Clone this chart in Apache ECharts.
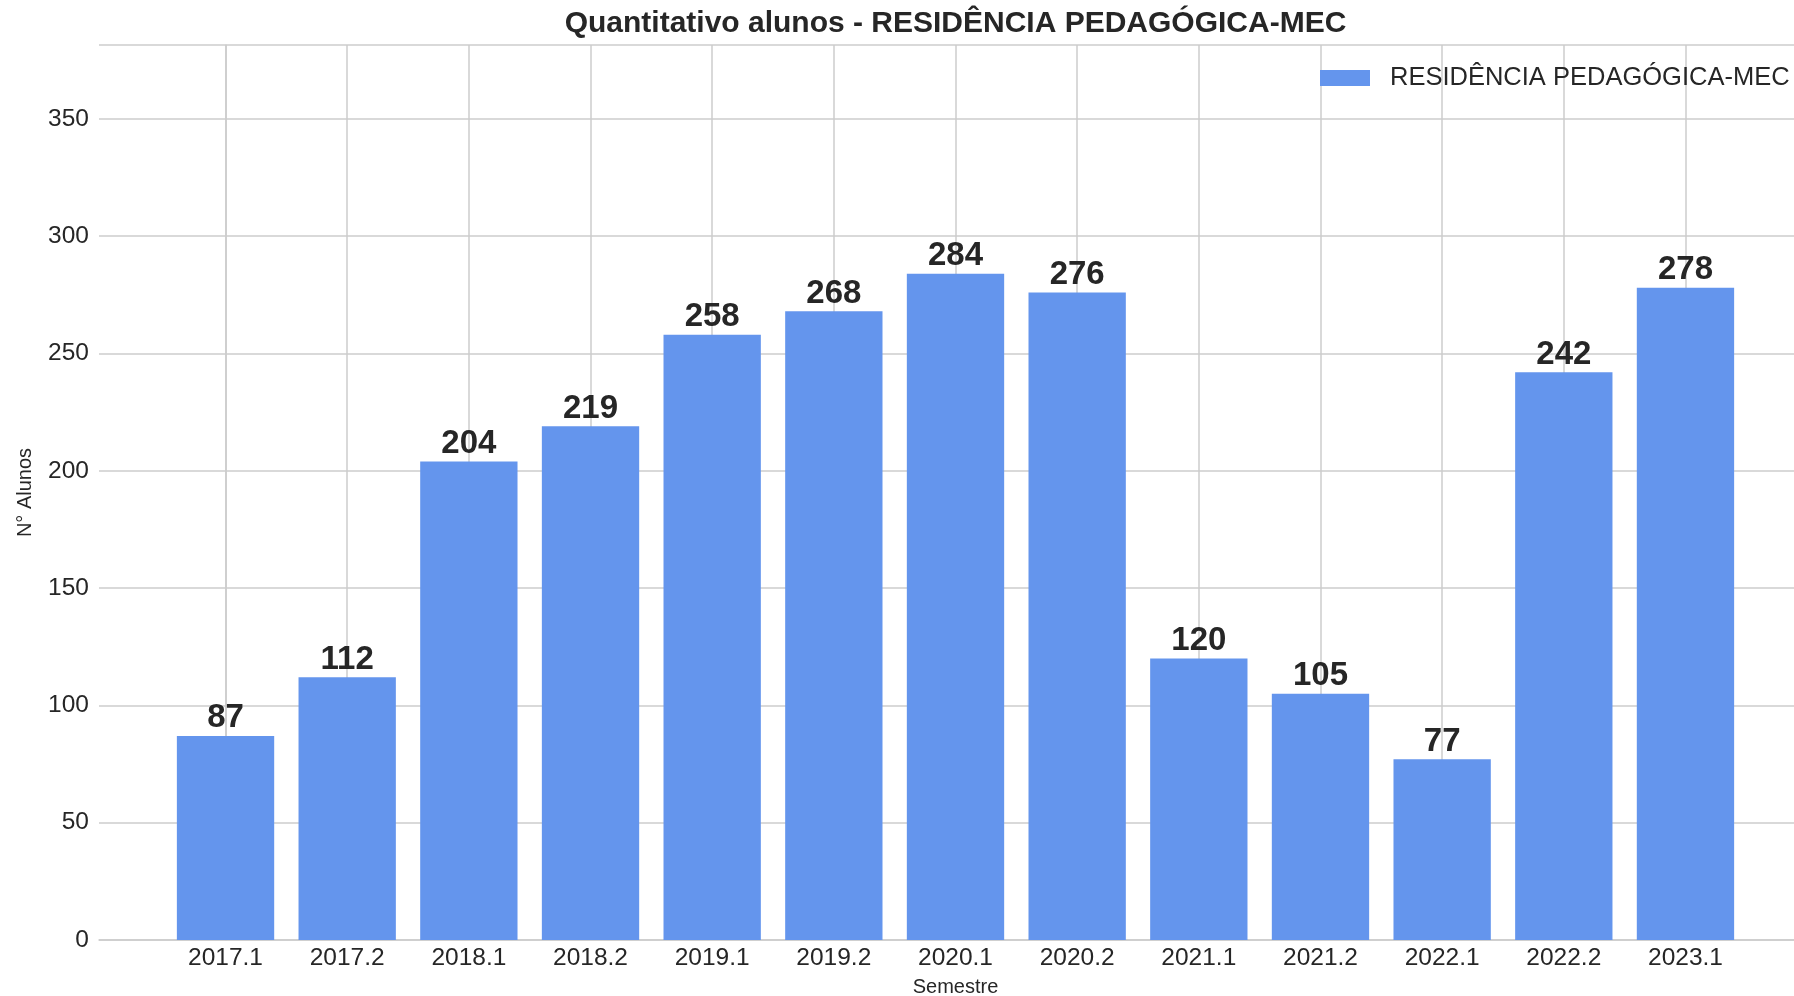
<!DOCTYPE html>
<html>
<head>
<meta charset="utf-8">
<title>Quantitativo alunos</title>
<script src="https://cdn.jsdelivr.net/npm/echarts@6/dist/echarts.min.js"></script>
<style>
  html, body { margin: 0; padding: 0; background: #fff; }
  #chart { width: 1794px; height: 996px; }
</style>
</head>
<body>
<div id="chart"></div>
<script>
const semestres = ['2017.1', '2017.2', '2018.1', '2018.2', '2019.1', '2019.2', '2020.1',
  '2020.2', '2021.1', '2021.2', '2022.1', '2022.2', '2023.1']
const alunos = [87, 112, 204, 219, 258, 268, 284, 276, 120, 105, 77, 242, 278]
const yTicks = [0, 50, 100, 150, 200, 250, 300, 350]
const serieNome = 'RESIDÊNCIA PEDAGÓGICA-MEC'

const fonte = 'Liberation Sans, Arial, sans-serif'
const corTexto = '#262626'
const corGrade = '#cccccc'

// limites do eixo x como no matplotlib (margem de 5%)
const xMin = -1.04
const xMax = 13.04
const gridLeft = 99
const gridTop = 45
const gridWidth = 1713
const gridHeight = 895
const barW = 0.8 * gridWidth / (xMax - xMin)

const chart = echarts.init(document.getElementById('chart'))
chart.setOption({
  animation: false,
  textStyle: { fontFamily: fonte, color: corTexto },
  title: {
    text: 'Quantitativo alunos - ' + serieNome,
    left: gridLeft + gridWidth / 2,
    textAlign: 'center',
    top: 9,
    padding: 0,
    textStyle: { fontFamily: fonte, fontSize: 30, fontWeight: 'bold', color: corTexto }
  },
  legend: {
    left: 1320,
    top: 65,
    padding: 0,
    itemWidth: 50,
    itemHeight: 16,
    icon: 'rect',
    textStyle: { fontFamily: fonte, fontSize: 25.5, color: corTexto, padding: [0, 0, 0, 15] },
    data: [serieNome]
  },
  grid: {
    left: gridLeft,
    top: gridTop,
    width: gridWidth,
    height: gridHeight,
    containLabel: false,
    outerBoundsMode: 'none'
  },
  xAxis: {
    type: 'value',
    min: xMin,
    max: xMax,
    name: 'Semestre',
    nameLocation: 'middle',
    nameGap: 37,
    nameTextStyle: { fontSize: 20, color: corTexto },
    axisLine: { show: true, lineStyle: { color: corGrade, width: 1.5 } },
    axisTick: { show: false, customValues: semestres.map((s, i) => i) },
    axisLabel: {
      customValues: semestres.map((s, i) => i),
      formatter: (v) => semestres[Math.round(v)],
      fontSize: 24.5,
      color: corTexto,
      margin: 6
    },
    splitLine: { show: true, lineStyle: { color: corGrade, width: 1.5 } }
  },
  yAxis: {
    type: 'value',
    min: 0,
    max: 381.5,
    interval: 50,
    name: 'N° Alunos',
    nameLocation: 'middle',
    nameGap: 64,
    nameTextStyle: { fontSize: 20, color: corTexto },
    axisLine: { show: true, lineStyle: { color: corGrade, width: 1.5 } },
    axisTick: { show: false },
    axisLabel: {
      showMaxLabel: false,
      fontSize: 24.5,
      color: corTexto,
      margin: 10,
      formatter: (v) => (yTicks.indexOf(v) >= 0 ? String(v) : '')
    },
    splitLine: { show: true, lineStyle: { color: corGrade, width: 1.5 } }
  },
  series: [
    {
      name: serieNome,
      type: 'bar',
      barWidth: barW,
      itemStyle: { color: '#6495ED' },
      label: {
        show: true,
        position: 'top',
        distance: 1,
        fontFamily: fonte,
        fontSize: 33,
        fontWeight: 'bold',
        color: corTexto
      },
      data: alunos.map((v, i) => [i, v])
    }
  ]
})
</script>
</body>
</html>
